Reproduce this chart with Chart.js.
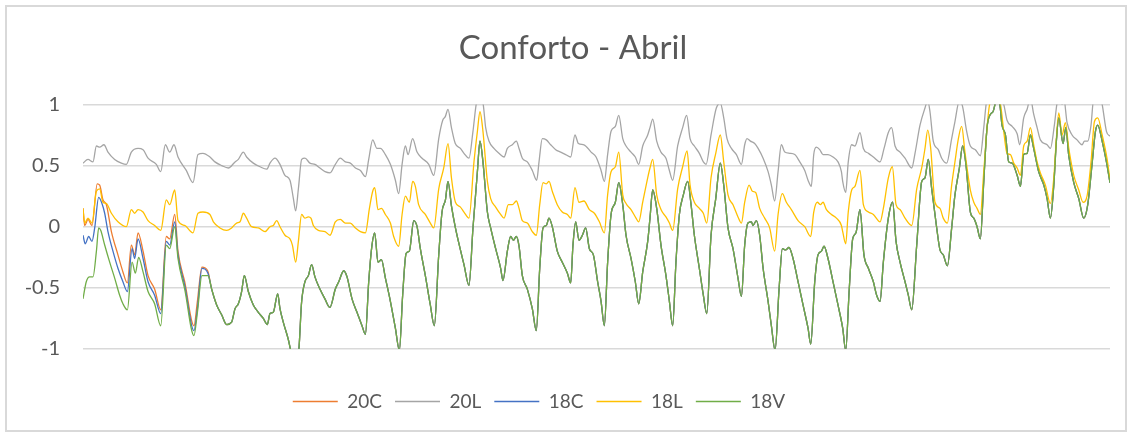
<!DOCTYPE html>
<html>
<head>
<meta charset="utf-8">
<script src="https://cdn.jsdelivr.net/npm/chart.js@4.4.1/dist/chart.umd.min.js"></script>
<style>
  html, body { margin: 0; padding: 0; background: #fff; }
  #wrap { position: relative; width: 1132px; height: 437px; }
  #frame { position: absolute; left: 5px; top: 5px; width: 1122px; height: 427px; box-sizing: border-box; border: 2px solid #d9d9d9; }
  #chart { position: absolute; left: 0; top: 0; }
</style>
</head>
<body>
<div id="wrap">
  <div id="frame"></div>
  <canvas id="chart" width="1132" height="437"></canvas>
</div>
<script>
// readings: [hour of April, comfort index]
const s20L = [[0,0.52],[3.5,0.55],[7,0.53],[9.4,0.66],[11.7,0.65],[14.7,0.67],[17.5,0.61],[22.2,0.55],[26.9,0.52],[30.4,0.51],[33.9,0.61],[38.6,0.64],[42.1,0.63],[45.6,0.56],[51.4,0.51],[54.5,0.45],[57.7,0.67],[60.8,0.61],[63.8,0.67],[66.6,0.57],[72.4,0.46],[77.1,0.36],[80.6,0.59],[84.1,0.60],[89,0.57],[92.5,0.53],[97.2,0.50],[101.9,0.48],[106.6,0.53],[108.9,0.55],[112.4,0.61],[114.7,0.57],[119.4,0.52],[124.1,0.49],[128.8,0.47],[131.1,0.52],[134.6,0.56],[138.1,0.51],[141.6,0.42],[145.1,0.38],[147.5,0.23],[149.1,0.13],[151,0.31],[153.3,0.55],[155.6,0.56],[159.1,0.52],[162.6,0.51],[166.1,0.48],[169.7,0.45],[173.2,0.44],[176.9,0.51],[180.4,0.56],[183.9,0.53],[187.4,0.52],[191,0.48],[194.5,0.46],[198,0.41],[200.3,0.55],[203.1,0.71],[206.1,0.64],[208.5,0.64],[212,0.59],[215.5,0.51],[219,0.38],[221.3,0.27],[223.7,0.51],[226,0.66],[227.9,0.59],[231.1,0.72],[234.2,0.61],[237.7,0.56],[242.4,0.51],[245.9,0.42],[249.4,0.72],[252.2,0.87],[254,0.90],[255.9,0.96],[258.3,0.81],[261,0.68],[264.6,0.64],[267.1,0.60],[270.6,0.56],[273.4,0.78],[275.8,1.01],[277.6,1.05],[280.4,1.01],[282.3,0.81],[284.6,0.70],[288.1,0.64],[291.6,0.60],[295.2,0.57],[297.5,0.64],[301,0.67],[303.8,0.70],[305.7,0.64],[308,0.56],[311.5,0.53],[315,0.46],[318.1,0.38],[319.7,0.53],[322,0.72],[324.8,0.71],[327.9,0.67],[331.4,0.63],[334.9,0.61],[338.4,0.59],[341.9,0.57],[344.9,0.75],[347.3,0.68],[351.2,0.67],[356.2,0.61],[359.7,0.57],[363.2,0.46],[365.5,0.37],[367.8,0.59],[370.2,0.78],[373.2,0.82],[375.6,0.91],[378.4,0.72],[380.7,0.66],[384.2,0.61],[387.2,0.57],[389.6,0.51],[392.4,0.66],[395.9,0.75],[397.5,0.81],[399.4,0.88],[402.2,0.70],[405.2,0.61],[408.7,0.56],[411.1,0.46],[413.4,0.38],[416.9,0.66],[420.4,0.81],[423.2,0.91],[425.6,0.72],[428.6,0.66],[432.1,0.60],[434.9,0.53],[436.8,0.51],[440.3,0.75],[444,0.97],[446.8,1.01],[449.2,0.89],[451.5,0.72],[454.6,0.64],[458.1,0.59],[461.6,0.51],[463.9,0.67],[465.5,0.72],[467.9,0.70],[470.9,0.68],[473.3,0.64],[476.8,0.56],[480.3,0.45],[482.6,0.34],[484.9,0.21],[487.3,0.45],[489.6,0.67],[492,0.61],[495.5,0.60],[499,0.59],[502.5,0.53],[506,0.46],[508.3,0.38],[510.6,0.33],[512.3,0.59],[514.1,0.65],[516.5,0.63],[518.8,0.59],[522.3,0.59],[525.8,0.57],[529.3,0.53],[531.7,0.45],[532.6,0.37],[534.7,0.28],[536.5,0.53],[538.9,0.67],[541.2,0.66],[544.7,0.77],[547.1,0.64],[550.6,0.60],[554.1,0.57],[558.8,0.53],[561.6,0.64],[564.6,0.77],[566.9,0.81],[569.3,0.66],[572.8,0.61],[576.3,0.56],[581,0.48],[583.3,0.60],[586.8,0.83],[590.3,0.97],[592.2,1.03],[593.8,0.94],[596.1,0.70],[599.6,0.63],[602,0.56],[605.5,0.52],[609,0.72],[611.3,0.86],[614.4,1.03],[616.7,0.98],[619.5,0.78],[622.1,0.66],[625.6,0.63],[629.1,0.58],[631.5,0.81],[633.4,1.02],[637.3,1.1],[643.2,1.05],[645.5,1.00],[647.8,0.87],[651.4,0.82],[654.9,0.76],[656.7,0.67],[659.5,0.89],[661.9,0.96],[664.2,1.05],[666.5,0.92],[668.9,0.81],[671.2,0.71],[675.9,0.67],[678.2,0.64],[681,0.83],[682.9,1.01],[685.2,1.05],[686.4,1.00],[687.6,1.05],[689.9,0.85],[693.4,0.75],[696.9,0.71],[700.4,0.67],[702.1,0.70],[704.4,0.70],[706.7,0.83],[708.6,1.05],[713.3,1.05],[714.5,1.00],[717.5,0.78],[720,0.74]];

const s18L = [[0,0.15],[1.2,0.03],[3.5,0.07],[6.3,0.03],[9.4,0.29],[11.7,0.31],[14,0.20],[16.4,0.19],[19.9,0.11],[24.5,0.04],[30.4,0.00],[33.9,0.14],[36.2,0.11],[38.6,0.14],[42.1,0.12],[45.6,0.05],[50.2,0.01],[54.5,-0.03],[58.4,0.22],[60.8,0.18],[64.3,0.30],[66.6,0.05],[71.3,0.01],[77.1,-0.05],[80.6,0.11],[84.1,0.12],[89,0.10],[91.4,0.04],[96,-0.01],[100.7,-0.03],[104.2,-0.01],[107.7,0.03],[110.1,0.04],[112.4,0.11],[114.7,0.07],[118.2,0.00],[122.9,-0.01],[127.6,-0.04],[131.1,0.00],[133.4,0.01],[135.8,0.05],[138.1,0.00],[141.6,-0.07],[145.1,-0.10],[146.8,-0.15],[149.1,-0.29],[151,-0.12],[153.3,0.10],[155.6,0.07],[158,0.08],[159.8,0.07],[161.5,0.01],[165,-0.03],[169.7,-0.04],[173.2,-0.07],[176.9,0.04],[180.4,0.06],[183.9,0.03],[187.4,0.03],[191,-0.01],[194.5,-0.04],[198,-0.05],[200.8,0.15],[203.1,0.29],[204.5,0.32],[206.8,0.14],[209.2,0.15],[212,0.10],[215.5,0.03],[217.8,-0.08],[221.3,-0.16],[223.7,0.10],[226,0.25],[228.8,0.20],[231.1,0.37],[233,0.33],[235.3,0.18],[240,0.10],[243.5,0.03],[245.9,-0.01],[249.4,0.31],[252.9,0.48],[255.9,0.68],[258.3,0.40],[261.1,0.20],[264.6,0.16],[267.1,0.12],[270.6,0.07],[274.1,0.53],[276.5,0.78],[278.3,0.94],[280.4,0.78],[283.5,0.37],[285.8,0.23],[289.3,0.16],[292.8,0.10],[295.2,0.07],[298.2,0.18],[301,0.18],[303.8,0.21],[305.7,0.15],[308,0.05],[311.5,0.03],[315,-0.04],[317.8,-0.07],[320.2,0.18],[322.5,0.36],[324.8,0.35],[326.7,0.37],[329,0.29],[332.5,0.18],[336,0.12],[339.6,0.10],[341.9,0.07],[344.9,0.32],[347.7,0.20],[351.2,0.21],[355,0.14],[358.5,0.11],[362,0.04],[365.5,-0.05],[367.8,0.26],[370.2,0.45],[373.2,0.49],[375.6,0.61],[378.4,0.26],[380.7,0.19],[384.2,0.14],[387.7,0.07],[389.6,0.04],[392.4,0.20],[395.9,0.40],[397.5,0.48],[399.4,0.55],[402.2,0.26],[405.2,0.14],[408.7,0.08],[411.1,0.03],[413.4,-0.03],[416.9,0.31],[420.4,0.49],[423.5,0.62],[425.6,0.34],[428.6,0.20],[432.1,0.15],[434.9,0.11],[437.3,0.03],[440.3,0.40],[443.6,0.60],[446.8,0.75],[449.2,0.53],[452.2,0.26],[455.7,0.18],[459.2,0.08],[461.6,0.03],[463.9,0.20],[467,0.34],[469.3,0.29],[471.6,0.28],[474.4,0.15],[477.9,0.07],[481.4,-0.01],[484.9,-0.20],[487.3,0.10],[490.3,0.27],[493.1,0.20],[496.6,0.14],[501.3,0.05],[506,0.00],[510.2,-0.08],[512.3,0.12],[514.8,0.20],[517,0.18],[518.8,0.20],[521.2,0.14],[524.7,0.10],[528.2,0.07],[531.7,0.01],[532.6,-0.04],[534.7,-0.14],[536.5,0.12],[538.9,0.30],[541.2,0.33],[544.7,0.46],[547.1,0.18],[550.6,0.12],[554.1,0.10],[558.8,0.04],[561.1,0.15],[564.6,0.40],[567.4,0.49],[570,0.18],[572.8,0.14],[576.3,0.07],[581,0.01],[584.5,0.31],[588,0.48],[590.3,0.64],[592.2,0.79],[594.3,0.64],[597.3,0.20],[600.8,0.15],[603.1,0.07],[606,0.03],[609,0.34],[611.3,0.53],[613.7,0.72],[616,0.82],[618.3,0.61],[622.1,0.30],[624.5,0.20],[626.8,0.15],[629.1,0.10],[631.5,0.45],[633.8,0.81],[635.7,1.01],[638.5,1.08],[643.2,1.00],[645.5,0.78],[647.8,0.60],[650.2,0.59],[652.5,0.52],[654.9,0.48],[657.2,0.42],[659.5,0.66],[661.9,0.70],[664.2,0.81],[666.5,0.67],[668.9,0.53],[671.2,0.44],[674.7,0.34],[678.2,0.19],[680.6,0.40],[682.4,0.72],[684.1,0.93],[686.4,0.75],[688.7,0.85],[691.1,0.64],[694.6,0.42],[698.1,0.30],[701.1,0.20],[703.9,0.25],[706.7,0.53],[709.1,0.86],[711.4,0.89],[714.5,0.75],[718,0.55],[720,0.38]];

// first ~3.5 days, where 20C, 18C and 18V still run apart
const head20C = [[0,0.15],[1.2,0.01],[3.5,0.06],[6.3,0.01],[10,0.35],[11.7,0.34],[14,0.22],[16.4,0.18],[19.9,-0.04],[24.5,-0.23],[28,-0.37],[31.1,-0.46],[33.9,-0.15],[36.2,-0.23],[38.6,-0.05],[42.1,-0.20],[45.6,-0.40],[50.2,-0.51],[54.5,-0.68],[58.4,-0.08],[60.8,-0.10],[64.3,0.10],[66.6,-0.20],[71.3,-0.45],[77.8,-0.81],[80.2,-0.61],[83.4,-0.33],[87.4,-0.36]];
const head18C = [[0,-0.07],[1.6,-0.14],[4,-0.08],[6.3,-0.12],[8.2,-0.01],[11,0.24],[13.3,0.19],[15.2,0.11],[17.5,-0.04],[21,-0.20],[24.5,-0.34],[28,-0.45],[31.1,-0.53],[34.4,-0.18],[36.2,-0.26],[38.6,-0.10],[42.1,-0.26],[45.6,-0.45],[50.2,-0.56],[54.5,-0.71],[58.4,-0.12],[60.8,-0.15],[64.3,0.04],[66.6,-0.23],[71.3,-0.48],[77.8,-0.85],[80.2,-0.67],[83.4,-0.34],[87.6,-0.38]];
const head18V = [[0,-0.59],[2.3,-0.45],[4.7,-0.41],[7,-0.41],[9.4,-0.20],[11,-0.01],[12.4,-0.03],[15.2,-0.15],[18.7,-0.29],[22.2,-0.42],[25.7,-0.56],[28,-0.63],[31.1,-0.68],[34.4,-0.29],[36.7,-0.38],[39,-0.25],[42.1,-0.37],[45.6,-0.53],[50.2,-0.63],[54.5,-0.81],[58.4,-0.15],[60.8,-0.18],[64.3,0.00],[66.6,-0.26],[71.3,-0.51],[77.8,-0.89],[80.2,-0.70],[83.4,-0.40],[87.6,-0.40]];

// rest of the month: 20C, 18C and 18V lie on top of each other
const tailCV = [[90.2,-0.51],[93.7,-0.64],[97.2,-0.72],[100.7,-0.80],[104.2,-0.78],[106.6,-0.67],[108.9,-0.63],[111.2,-0.53],[113.1,-0.40],[115.9,-0.53],[119.4,-0.64],[122.9,-0.70],[126.4,-0.75],[129.2,-0.80],[131.1,-0.71],[133.4,-0.70],[136.5,-0.55],[138.1,-0.67],[140.4,-0.78],[143.9,-0.92],[146.3,-1.04],[148.6,-1.08],[151,-1.04],[153.3,-0.61],[155.6,-0.45],[158,-0.40],[160.3,-0.31],[162.6,-0.41],[166.1,-0.51],[169.6,-0.59],[173.1,-0.66],[176.9,-0.51],[179.3,-0.45],[182.8,-0.36],[185.1,-0.41],[188.6,-0.59],[192.1,-0.70],[195.6,-0.81],[198,-0.88],[200.3,-0.45],[202.6,-0.15],[204.5,-0.05],[206.8,-0.29],[209.2,-0.27],[212,-0.42],[215.5,-0.61],[219,-0.83],[221.8,-1.01],[224.1,-0.56],[226.5,-0.22],[228.8,-0.20],[231.9,0.05],[234.2,0.00],[236.5,-0.18],[240,-0.40],[243.5,-0.64],[246.3,-0.81],[249.4,-0.23],[251.7,0.12],[254.1,0.22],[255.9,0.37],[258.3,0.17],[261.1,-0.01],[264.6,-0.19],[267.1,-0.31],[270.6,-0.48],[273.4,-0.01],[276.5,0.45],[278.3,0.70],[280.4,0.53],[283.5,0.12],[285.8,-0.01],[289.3,-0.18],[292.8,-0.34],[294.4,-0.44],[297.5,-0.20],[299.8,-0.08],[301.7,-0.11],[303.8,-0.08],[305.7,-0.16],[308,-0.40],[311.5,-0.51],[315,-0.67],[317.8,-0.85],[320.2,-0.34],[322.5,-0.01],[324.8,0.01],[326.7,0.07],[329,0.00],[332.5,-0.20],[336,-0.29],[339.6,-0.38],[341.9,-0.46],[343.5,-0.15],[345.4,0.04],[347.7,-0.11],[350.1,-0.07],[352.4,-0.01],[355,-0.18],[357.8,-0.23],[360.8,-0.45],[363.2,-0.61],[365.5,-0.81],[367.8,-0.29],[370.2,0.10],[373.2,0.20],[375.6,0.36],[378.4,0.18],[380.7,-0.07],[384.2,-0.26],[387.2,-0.45],[389.6,-0.63],[392.4,-0.37],[395.9,-0.12],[397.5,0.07],[399.4,0.30],[402.2,0.15],[405.2,-0.15],[408.7,-0.40],[411.1,-0.61],[413.4,-0.81],[415.7,-0.29],[418.1,0.10],[420.9,0.26],[423.9,0.37],[426.3,0.18],[428.6,-0.07],[432.1,-0.34],[434.9,-0.56],[437.3,-0.71],[440.3,-0.07],[443.6,0.23],[446.8,0.52],[449.2,0.34],[452.2,-0.01],[455.7,-0.18],[459.2,-0.42],[461.6,-0.57],[463.9,-0.15],[466.2,0.03],[468.6,0.04],[469.7,0.01],[472.1,0.05],[474.4,-0.07],[476.8,-0.34],[480.3,-0.61],[482.6,-0.81],[485.2,-1.01],[488,-0.51],[490.3,-0.18],[492.6,-0.19],[494.9,-0.17],[497.8,-0.26],[501.3,-0.45],[504.8,-0.64],[508.3,-0.83],[510.2,-0.96],[513,-0.45],[515.3,-0.23],[517.7,-0.20],[519.5,-0.16],[522.3,-0.26],[525.8,-0.45],[529.3,-0.64],[532.6,-0.83],[534.7,-1.01],[537.2,-0.51],[539.6,-0.10],[541.9,-0.05],[544.7,0.14],[547.5,-0.23],[550.6,-0.34],[554.1,-0.45],[556.4,-0.56],[558.8,-0.61],[561.1,-0.29],[564.6,0.07],[567.6,0.20],[570,-0.12],[572.8,-0.29],[576.3,-0.45],[578.6,-0.56],[581,-0.68],[584.5,-0.15],[588,0.37],[590.3,0.40],[592.6,0.55],[595,0.31],[598.5,-0.01],[600.8,-0.19],[603.1,-0.23],[606,-0.32],[609,-0.01],[611.3,0.26],[614.4,0.48],[616.7,0.66],[619,0.51],[622.1,0.12],[624.5,0.07],[626.8,0.00],[629.1,-0.10],[631.5,0.37],[633.8,0.81],[636.2,0.92],[638,0.94],[640.4,1.03],[642.7,1.00],[644.3,0.83],[646.7,0.75],[649,0.53],[651.4,0.52],[654.9,0.42],[657.2,0.33],[659.5,0.59],[661.9,0.60],[664.2,0.75],[666.5,0.64],[670,0.45],[673.6,0.34],[675.9,0.23],[678.2,0.07],[680.6,0.34],[682.4,0.70],[684.1,0.89],[687.1,0.68],[689,0.81],[691.1,0.58],[694.6,0.36],[698.1,0.23],[701.6,0.07],[704.4,0.18],[707.4,0.51],[709.8,0.78],[711.4,0.83],[714.5,0.70],[717.5,0.53],[720,0.36]];

const s20C = head20C.concat(tailCV);
const s18C = head18C.concat(tailCV);
const s18V = head18V.concat(tailCV);

const seriesNames = ["20C", "20L", "18C", "18L", "18V"];
const seriesData = [s20C, s20L, s18C, s18L, s18V];
const seriesColors = ["#ED7D31", "#A5A5A5", "#4472C4", "#FFC000", "#70AD47"];
const yTicks = [-1, -0.5, 0, 0.5, 1];

const textColor = "#595959";
const font = "Lato";

// Excel centres the title over the plot and puts the legend a little left of centre
const nudgeBoxes = {
  id: "nudgeBoxes",
  afterLayout(chart) {
    chart.titleBlock.left += 18;
    chart.titleBlock.right += 18;
    chart.legend.left -= 16;
    chart.legend.right -= 16;
  },
};

new Chart(document.getElementById("chart"), {
  type: "line",
  data: {
    datasets: seriesNames.map((name, i) => ({
      label: name,
      data: seriesData[i].map(([x, y]) => ({ x, y })),
      borderColor: seriesColors[i],
      backgroundColor: seriesColors[i],
      borderWidth: 1.3,
      pointRadius: 0,
      cubicInterpolationMode: "monotone",
      order: seriesNames.length - i,
    })),
  },
  options: {
    responsive: false,
    animation: false,
    layout: { padding: { top: 0, right: 22, bottom: 16, left: 0 } },
    plugins: {
      title: {
        display: true,
        text: "Conforto - Abril",
        color: textColor,
        font: { family: font, size: 33, weight: "normal" },
        padding: { top: 29, bottom: 35.8 },
      },
      legend: {
        position: "bottom",
        labels: {
          usePointStyle: true,
          pointStyle: "line",
          pointStyleWidth: 45,
          padding: 13,
          color: textColor,
          font: { family: font, size: 19 },
          sort: (a, b) => a.datasetIndex - b.datasetIndex,
        },
      },
      tooltip: { enabled: false },
    },
    scales: {
      x: {
        type: "linear",
        min: 0,
        max: 720,
        ticks: { display: false },
        grid: { display: false },
        border: { display: false },
        afterFit: (s) => { s.height = 30; },
      },
      y: {
        min: yTicks[0],
        max: yTicks[yTicks.length - 1],
        afterBuildTicks: (s) => { s.ticks = yTicks.map((v) => ({ value: v })); },
        ticks: {
          padding: 23,
          color: textColor,
          font: { family: font, size: 20 },
          callback: (v) => String(v),
        },
        grid: { color: "#d9d9d9", lineWidth: 1.5, drawTicks: false },
        border: { display: false },
        afterFit: (s) => { s.width = 83; },
      },
    },
  },
  plugins: [nudgeBoxes],
});
</script>
</body>
</html>
